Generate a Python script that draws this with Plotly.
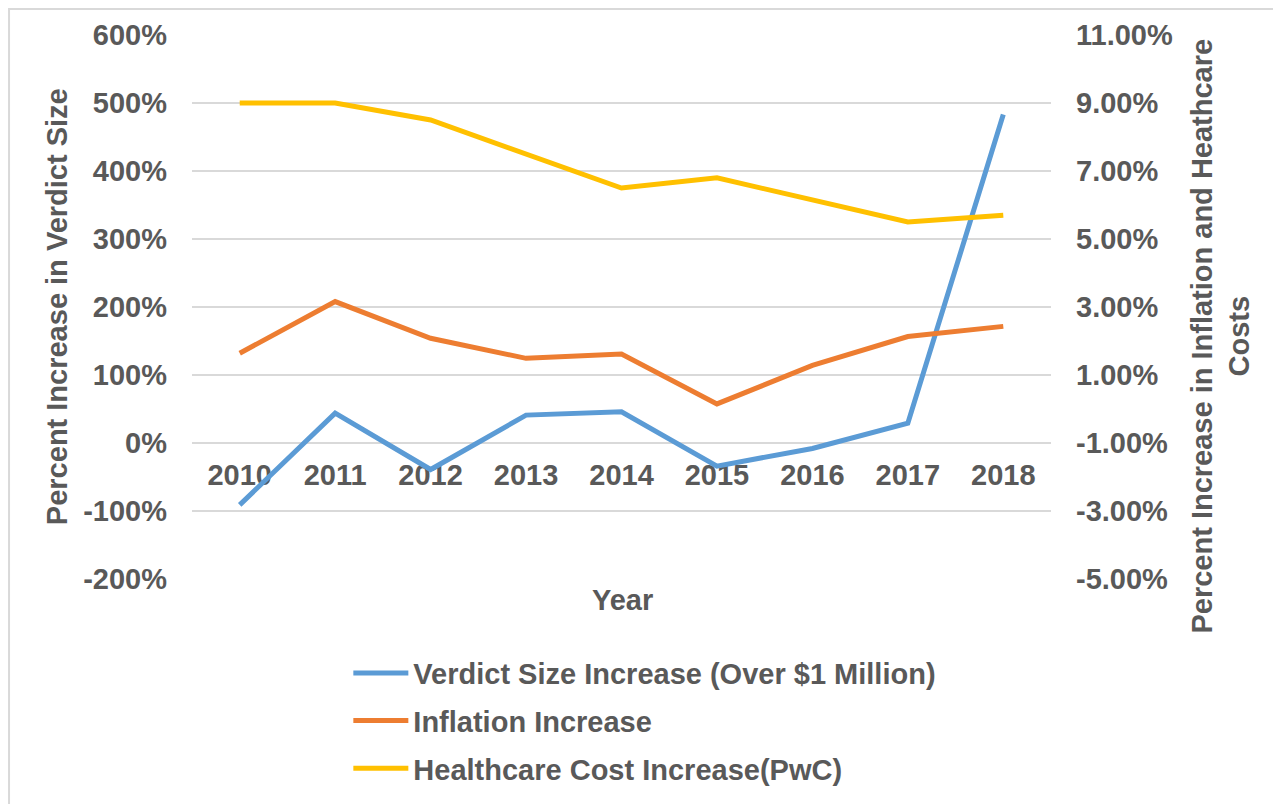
import plotly.graph_objects as go

# ---- data ----
years = ["2010", "2011", "2012", "2013", "2014", "2015", "2016", "2017", "2018"]
verdict_pct = [-91, 44, -39, 41, 46, -34, -8, 29, 483]          # left axis, %
inflation_pct = [1.64, 3.16, 2.08, 1.49, 1.62, 0.15, 1.28, 2.13, 2.43]  # right axis, %
healthcare_pct = [9.0, 9.0, 8.5, 7.5, 6.5, 6.8, 6.15, 5.5, 5.7]       # right axis, %

left_ticks = [-200, -100, 0, 100, 200, 300, 400, 500, 600]
left_labels = ["-200%", "-100%", "0%", "100%", "200%", "300%", "400%", "500%", "600%"]
right_ticks = [-5, -3, -1, 1, 3, 5, 7, 9, 11]
right_labels = ["-5.00%", "-3.00%", "-1.00%", "1.00%", "3.00%", "5.00%",
                "7.00%", "9.00%", "11.00%"]

TEXT = "#595959"
GRID = "#D9D9D9"
FONT = "Liberation Sans, Arial, sans-serif"
FS = 29


def _font(size=FS):
    return dict(family=FONT, size=size, color=TEXT, weight="bold")


fig = go.Figure()
fig.add_trace(go.Scatter(
    x=years, y=verdict_pct, name="Verdict Size Increase (Over $1 Million)",
    mode="lines", line=dict(color="#5B9BD5", width=5), yaxis="y"))
fig.add_trace(go.Scatter(
    x=years, y=inflation_pct, name="Inflation Increase",
    mode="lines", line=dict(color="#ED7D31", width=5), yaxis="y2"))
fig.add_trace(go.Scatter(
    x=years, y=healthcare_pct, name="Healthcare Cost Increase(PwC)",
    mode="lines", line=dict(color="#FFC000", width=5), yaxis="y2"))

# page body has an 8px margin, so the figure is drawn 8px smaller / shifted
fig.update_layout(
    width=1273, height=796,
    paper_bgcolor="white", plot_bgcolor="white",
    margin=dict(l=184, r=230, t=27, b=225, autoexpand=False),
    font=_font(),
    showlegend=True,
    legend=dict(
        orientation="v", x=0.182, xanchor="left", y=-0.126, yanchor="top",
        bgcolor="rgba(0,0,0,0)", tracegroupgap=7, itemwidth=55,
        font=_font(),
    ),
    xaxis=dict(
        type="category", range=[-0.5, 8.5], anchor="free", position=0.25,
        showgrid=False, showline=False, zeroline=False, ticks="",
        ticklabelstandoff=12, layer="below traces", tickfont=_font(),
    ),
    yaxis=dict(
        range=[-200, 600], tickvals=left_ticks, ticktext=left_labels,
        showgrid=True, gridcolor=GRID, gridwidth=2, zeroline=False,
        showline=False, ticks="", ticklabelstandoff=24, tickfont=_font(),
    ),
    yaxis2=dict(
        range=[-5, 11], tickvals=right_ticks, ticktext=right_labels,
        overlaying="y", side="right", anchor="x",
        showgrid=False, zeroline=False, showline=False, ticks="",
        ticklabelstandoff=24, tickfont=_font(),
    ),
)

# each series in its own group so the legend rows get Excel-like spacing
for i, tr in enumerate(fig.data):
    tr.legendgroup = f"g{i}"

fig.add_annotation(text="Percent Increase in Verdict Size", xref="paper", yref="paper",
                   x=-0.157, y=0.5, xanchor="center", yanchor="middle",
                   textangle=-90, showarrow=False, font=_font())
fig.add_annotation(text="Percent Increase in Inflation and Heathcare<br>Costs",
                   xref="paper", yref="paper", x=1.198, y=0.4458,
                   xanchor="center", yanchor="middle", textangle=-90,
                   showarrow=False, font=_font())
fig.add_annotation(text="Year", xref="paper", yref="paper", x=0.5006, y=-0.0386,
                   xanchor="center", yanchor="middle", showarrow=False, font=_font())

# chart-area border (only top and left fall inside the cropped picture)
fig.add_shape(type="rect", xref="paper", yref="paper",
              x0=-0.2130, y0=-0.45, x1=1.5, y1=1.0478,
              line=dict(color=GRID, width=2), fillcolor="rgba(0,0,0,0)", layer="below")

fig.write_html("out.html")
